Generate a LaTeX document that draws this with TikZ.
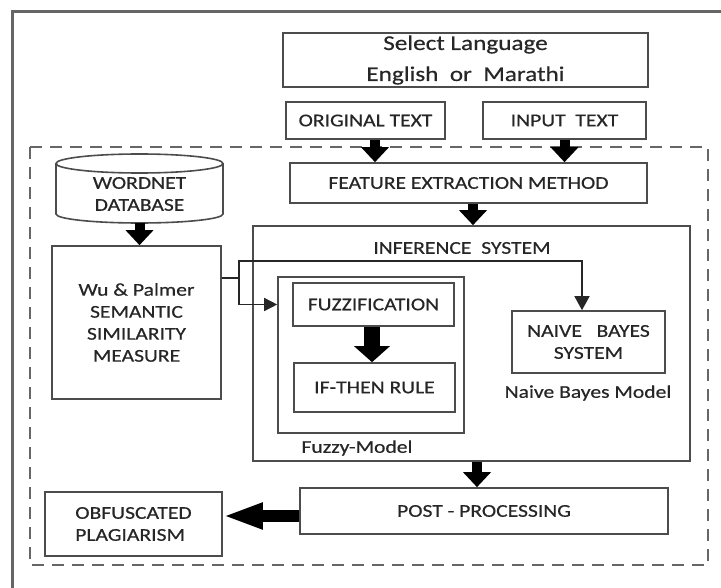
\documentclass[tikz,border=0pt]{standalone}
\usepackage{fontspec}
\setmainfont{Carlito}[FakeStretch=1.2,FakeBold=0.5]
\usetikzlibrary{arrows.meta}

\begin{document}
\begin{tikzpicture}[x=1pt,y=-1pt,
    box/.style={draw=black!70,line width=1.6pt,text=black!85,inner sep=0pt,
      font=\fontsize{18}{22}\selectfont},
    lbl/.style={text=black!85,inner sep=0pt,font=\fontsize{18}{22}\selectfont},
    link/.style={draw=black!85,line width=1.5pt},
    linkarrow/.style={link,-{Triangle[length=14pt,width=15pt]}},
    fatarrow/.style={draw=black,line width=10pt,-{Triangle[length=15pt,width=27pt]}}]
  \useasboundingbox (0,0) rectangle (721,588);
  % outer frame and dashed group
  \draw[black!60,line width=3pt] (12.5,588) |- (721,11.5);
  \draw[black!60,line width=2.2pt,dash pattern=on 12pt off 8pt] (30,147) rectangle (708,565);

  % top part
  \node[box,align=center,minimum width=365pt,minimum height=54pt,
    font=\fontsize{21}{31}\selectfont] (lang) at (465.5,60)
    {Select Language\\English\ \ or\ \ Marathi};
  \node[box,minimum width=159pt,minimum height=37pt] (orig) at (365.5,120.5) {ORIGINAL TEXT};
  \node[box,minimum width=163pt,minimum height=37pt] (input) at (564.5,120.5) {INPUT\ \ TEXT};
  \node[box,minimum width=357pt,minimum height=40pt] (fem) at (468.5,183) {FEATURE EXTRACTION METHOD};

  % wordnet database
  \draw[black!70,line width=1.6pt,fill=white] (56,163.5) -- (56,214)
    arc[start angle=180,end angle=0,x radius=83.5,y radius=9] -- (223,163.5);
  \draw[black!70,line width=1.6pt,fill=white] (139.5,163.5) ellipse[x radius=83.5,y radius=9.5];
  \node[lbl,align=center] (db) at (139.5,194) {WORDNET\\DATABASE};
  \coordinate (dbbase) at (139.5,223);
  \node[box,align=center,minimum width=169pt,minimum height=153pt] (wp) at (136.5,322.5)
    {Wu \& Palmer\\SEMANTIC\\SIMILARITY\\MEASURE};

  % inference system
  \node[box,minimum width=437pt,minimum height=235pt] (inf) at (471.5,343.5) {};
  \node[lbl] (inflbl) at (462,248) {INFERENCE\ \ SYSTEM};
  \node[box,minimum width=186pt,minimum height=156pt] (fuzzy) at (371,355) {};
  \node[lbl] (fuzzylbl) at (357,448) {Fuzzy-Model};
  \node[box,minimum width=161pt,minimum height=43pt] (fuzz) at (373.5,304.5) {FUZZIFICATION};
  \node[box,minimum width=161pt,minimum height=49pt] (rule) at (374.5,387.5) {IF-THEN RULE};
  \node[box,align=center,minimum width=153pt,minimum height=62pt] (nb) at (588.5,342)
    {NAIVE\ \ \ BAYES\\SYSTEM};
  \node[lbl] (nblbl) at (588,393) {Naive Bayes Model};

  % bottom part
  \node[box,minimum width=368pt,minimum height=46pt] (post) at (484,511) {POST - PROCESSING};
  \node[box,align=left,minimum width=177pt,minimum height=64pt] (obf) at (133.5,524)
    {OBFUSCATED\\PLAGIARISM};

  % connectors
  \draw[fatarrow] ([xshift=9.5pt]orig.south) -- ([xshift=9.5pt]orig.south |- fem.north);
  \draw[fatarrow] (input.south) -- (input.south |- fem.north);
  \draw[fatarrow] ([xshift=4.5pt]fem.south) -- ([xshift=4.5pt]fem.south |- inf.north);
  \draw[fatarrow] (dbbase) -- (dbbase |- wp.north);
  \draw[fatarrow,line width=16pt,-{Triangle[length=16pt,width=35pt]}]
    ([xshift=-1.5pt]fuzz.south) -- ([xshift=-1.5pt]fuzz.south |- rule.north);
  \draw[fatarrow] ([xshift=5.5pt]inf.south) -- ([xshift=5.5pt]inf.south |- post.north);
  \draw[fatarrow,line width=12pt,-{Triangle[length=40pt,width=24pt]}]
    ([yshift=-5pt]post.west) -- ([yshift=-5pt]post.west -| obf.east);

  \coordinate (split) at (239,278);
  \coordinate (bend) at (239,261);
  \draw[linkarrow] (wp.east |- split) -- (split) -- (bend) -| ([xshift=-6.5pt]nb.north);
  \draw[linkarrow,-{Triangle[length=13pt,width=13pt]}] (split) |- (fuzzy.west |- fuzz.west);
\end{tikzpicture}
\end{document}
